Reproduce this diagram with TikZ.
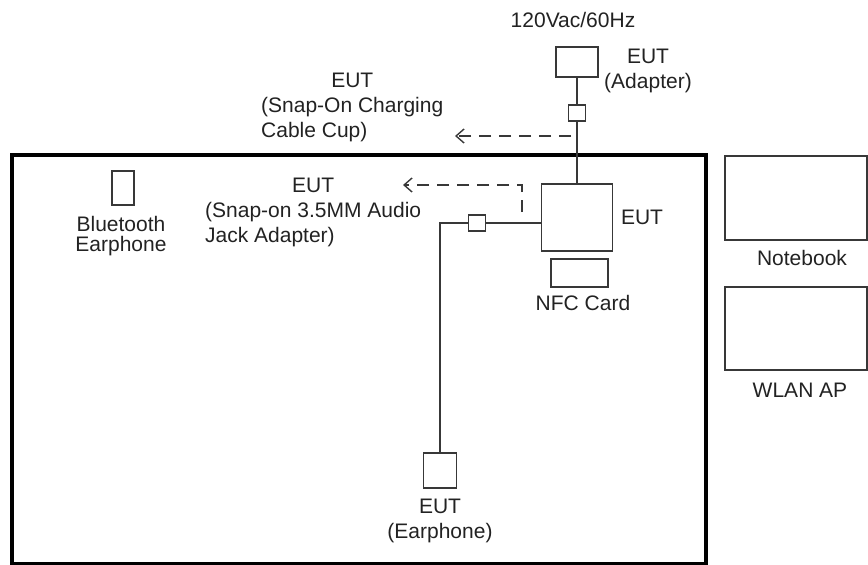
\documentclass[tikz,border=0pt]{standalone}
\usepackage{fontspec}
\setmainfont{Liberation Sans}
\usepackage{xcolor}
\definecolor{ink}{HTML}{222222}
\definecolor{frame}{HTML}{383838}
\usetikzlibrary{positioning,arrows.meta}

\begin{document}
\begin{tikzpicture}[x=1pt,y=-1pt,font=\fontsize{21}{25}\selectfont,text=ink,
  box/.style={draw=frame,line width=1.6pt,inner sep=0pt,fill=white},
  lbl/.style={inner sep=0pt,align=center},
  wire/.style={draw=frame,line width=1.6pt},
  hint/.style={draw=frame,line width=1.4pt,dash pattern=on 12pt off 8pt,
    -{Straight Barb[length=8pt,width=14pt]}}]
  \useasboundingbox (0,0) rectangle (868,565);
  \draw[line width=4pt] (12,155) rectangle (706,564);

  % devices
  \node[box,minimum width=42,minimum height=30] (adapter) at (577,62) {};
  \node[box,minimum width=17,minimum height=16] (cup) at (577,113) {};
  \node[box,minimum width=71,minimum height=67] (eut) at (577,217.5) {};
  \node[box,minimum width=57,minimum height=28] (nfc) at (579.5,273) {};
  \node[box,minimum width=17,minimum height=16] (jack) at (477,223) {};
  \node[box,minimum width=33,minimum height=35] (bud) at (440,470.5) {};
  \node[box,minimum width=22,minimum height=34] (bt) at (123,188) {};
  \node[box,minimum width=142,minimum height=84] (nb) at (796,198) {};
  \node[box,minimum width=142,minimum height=83] (ap) at (796,328.5) {};

  % labels
  \node[lbl] (mains) at (573,20) {120Vac/60Hz};
  \node[lbl] (adapterlbl) at (648,71) {EUT\\(Adapter)};
  \node[lbl,anchor=west] (cuplbl) at (261,107)
    {\begin{tabular}{@{}l@{}}\multicolumn{1}{@{}c@{}}{EUT}\\(Snap-On Charging\\Cable Cup)\end{tabular}};
  \node[lbl,anchor=west] (jacklbl) at (205,212)
    {\begin{tabular}{@{}l@{}}\multicolumn{1}{@{}c@{}}{EUT}\\(Snap-on 3.5MM Audio\\Jack Adapter)\end{tabular}};
  \node[lbl] (eutlbl) at (642,217) {EUT};
  \node[lbl] (nfclbl) at (583,303) {NFC Card};
  \node[lbl] (budlbl) at (440,521) {EUT\\(Earphone)};
  \node[lbl,font=\fontsize{21}{20}\selectfont] (btlbl) at (121,236) {Bluetooth\\Earphone};
  \node[lbl] (nblbl) at (802,258) {Notebook};
  \node[lbl] (aplbl) at (800,390) {WLAN AP};

  % cables
  \draw[wire] (adapter) -- (cup) -- (eut);
  \coordinate (bend) at (bud.north |- jack.west);
  \draw[wire] (eut.west |- jack.east) -- (jack.east);
  \draw[wire] (jack.west) -- (bend) -- (bud.north);

  % snap-on parts
  \coordinate (cuptap) at (571,136);
  \coordinate (cupend) at (455,136);
  \draw[hint] (cuptap) -- (cupend);
  \coordinate (jacktap) at (522,212);
  \coordinate (jackend) at (403,185);
  \draw[hint] (jacktap) |- (jackend);
\end{tikzpicture}
\end{document}
